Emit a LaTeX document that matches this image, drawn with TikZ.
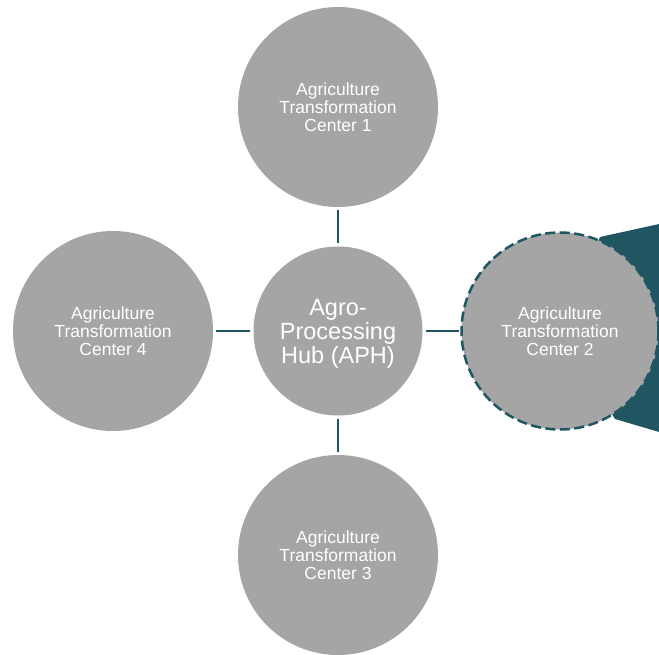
\documentclass[tikz,border=0pt]{standalone}
\usepackage{fontspec}
\setmainfont{Liberation Sans}
\definecolor{teal}{HTML}{1F5662}
\definecolor{circgray}{HTML}{A5A5A5}
\begin{document}
\begin{tikzpicture}[x=1pt,y=-1pt,
  sat/.style={circle, fill=circgray, minimum size=200pt, inner sep=0pt, text=white, align=center, font=\fontsize{17.5}{18}\selectfont},
  hub/.style={circle, fill=circgray, minimum size=169pt, inner sep=0pt, text=white, align=center, text depth=0pt, font=\fontsize{23.5}{24}\selectfont},
  link/.style={draw=teal, line width=2.6pt, shorten <=3pt, shorten >=3pt}]
\useasboundingbox (0,0) rectangle (659,655);
\clip (0,0) rectangle (659,655);
% callout wedge
\fill[teal] (560,331) -- (600,237) -- (700,215) -- (700,444) -- (615,419) -- cycle;
\node[hub] (aph) at (338,331) {Agro-\\Processing\\Hub (APH)};
\node[sat] (c1) at (338,107) {Agriculture\\Transformation\\Center 1};
\node[sat, draw=teal, line width=2.5pt, dash pattern=on 10pt off 4.5pt, minimum size=197pt] (c2) at (560,331) {Agriculture\\Transformation\\Center 2};
\node[sat] (c3) at (338,555) {Agriculture\\Transformation\\Center 3};
\node[sat] (c4) at (113,331) {Agriculture\\Transformation\\Center 4};
\draw[link] (aph) -- (c1);
\draw[link] (aph) -- (c3);
\draw[link] (aph) -- (c4);
\draw[link, shorten >=1pt] (aph) -- (c2);
\end{tikzpicture}
\end{document}
